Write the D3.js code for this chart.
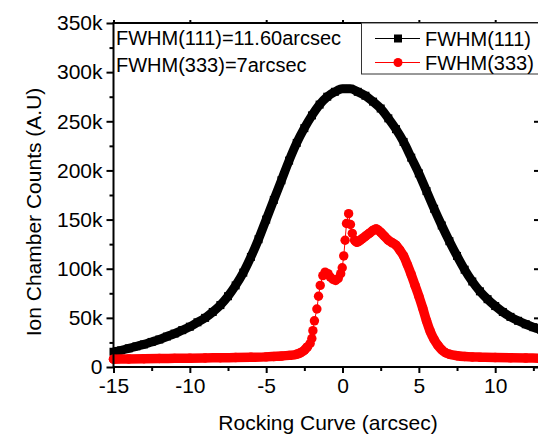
<!DOCTYPE html>
<html>
<head>
<meta charset="utf-8">
<script src="https://cdnjs.cloudflare.com/ajax/libs/d3/7.8.5/d3.min.js"></script>
<style>
  body { margin: 0; background: #fff; }
  text { font-family: "Liberation Sans", Arial, sans-serif; }
</style>
</head>
<body>
<script>

// FWHM(111) series, counts in thousands
var blackX = [-15, -14.5, -14, -13.5, -13, -12.5, -12, -11.5, -11, -10.5, -10, -9.5, -9, -8.5, -8, -7.5, -7, -6.5, -6, -5.5,
  -5, -4.5, -4, -3.5, -3, -2.5, -2, -1.5, -1, -0.5, 0, 0.5, 1, 1.5, 2, 2.5, 3, 3.5, 4, 4.5,
  5, 5.5, 6, 6.5, 7, 7.5, 8, 8.5, 9, 9.5, 10, 10.5, 11, 11.5, 12, 12.5, 13];
var blackY = [15.5, 17, 19, 21, 23, 25.5, 28, 31, 34, 37.5, 41, 45.5, 50, 56, 63, 72, 83, 96, 112, 130,
  150, 170, 190, 210, 228, 243, 256, 267, 275, 280, 283, 283, 280, 276, 270, 263, 253, 242, 229, 213,
  197, 179, 161, 144, 128, 113, 99, 87, 77, 69, 62, 56, 51, 47, 43.5, 40.5, 38];

// FWHM(333) series, counts in thousands
var redX = [-15, -14, -13, -12, -11, -10, -9, -8, -7, -6, -5, -4.5, -4, -3.5, -3, -2.75, -2.5, -2.3, -2.12, -2.01,
  -1.94, -1.84, -1.68, -1.57, -1.46, -1.29, -1.14, -0.95, -0.8, -0.62, -0.45, -0.28, -0.12, -0.02, 0.08, 0.17, 0.26, 0.4, 0.52, 0.64,
  0.8, 0.95, 1.25, 1.5, 1.75, 2, 2.2, 2.5, 2.75, 3, 3.25, 3.5, 3.75, 4, 4.25, 4.5, 4.75, 5, 5.25, 5.5,
  5.75, 6, 6.25, 6.5, 6.75, 7, 7.5, 8, 8.5, 9, 10, 11, 12, 13];
var redY = [8, 8.2, 8.4, 8.6, 8.8, 9, 9.2, 9.4, 9.6, 9.9, 10.3, 10.7, 11.1, 11.8, 13, 14.5, 17, 20.5, 24, 29,
  37, 47, 59, 72, 83, 93, 96.5, 95, 91.5, 89, 88, 90, 95, 101, 113, 129, 146, 156, 145, 136,
  129, 127, 130, 133, 136, 139, 140.5, 137, 133, 129, 126.5, 124, 119, 113, 104, 94, 83, 72, 60, 47,
  36, 28, 22, 17.5, 14.5, 13, 11.5, 10.7, 10.2, 10, 9.6, 9.3, 9.1, 9];

var xTicks = [-15, -10, -5, 0, 5, 10];
var xTickLabels = ["-15", "-10", "-5", "0", "5", "10"];
var xMinor = [-12.5, -7.5, -2.5, 2.5, 7.5, 12.5];
var yTicks = [0, 50, 100, 150, 200, 250, 300, 350];
var yTickLabels = ["0", "50k", "100k", "150k", "200k", "250k", "300k", "350k"];
var yMinor = [25, 75, 125, 175, 225, 275, 325];
var seriesNames = ["FWHM(111)", "FWHM(333)"];
var notes = ["FWHM(111)=11.60arcsec", "FWHM(333)=7arcsec"];

var width = 538, height = 435;
var plotLeft = 113.5, plotRight = 541, plotTop = 23, plotBottom = 367;

var svg = d3.select("body").append("svg")
  .attr("width", width)
  .attr("height", height);

svg.append("rect").attr("width", width).attr("height", height).attr("fill", "#fff");

var x = d3.scaleLinear().domain([-15, 13]).range([plotLeft, plotRight]);
var y = d3.scaleLinear().domain([0, 350]).range([plotBottom, plotTop]);

var black = blackX.map(function (v, i) { return { x: v, y: blackY[i] }; });
var red = redX.map(function (v, i) { return { x: v, y: redY[i] }; });

var plot = svg.append("g");

var line = d3.line()
  .x(function (d) { return x(d.x); })
  .y(function (d) { return y(d.y); })
  .curve(d3.curveMonotoneX);

// black: dense squares look like a solid band
plot.append("path")
  .datum(black)
  .attr("d", line)
  .attr("fill", "none")
  .attr("stroke", "#000")
  .attr("stroke-width", 9)
  .attr("stroke-linejoin", "round");

plot.selectAll("rect.sq")
  .data(black)
  .enter()
  .append("rect")
  .attr("class", "sq")
  .attr("x", function (d) { return x(d.x) - 4; })
  .attr("y", function (d) { return y(d.y) - 4; })
  .attr("width", 8)
  .attr("height", 8)
  .attr("fill", "#000");

// red: solid band where points are dense, separate dots on the steep part
var band = d3.line()
  .defined(function (d) { return d.x <= -2.3 || d.x >= 0.8; })
  .x(function (d) { return x(d.x); })
  .y(function (d) { return y(d.y); })
  .curve(d3.curveMonotoneX);

plot.append("path")
  .datum(red)
  .attr("d", band)
  .attr("fill", "none")
  .attr("stroke", "#ff0000")
  .attr("stroke-width", 9.5)
  .attr("stroke-linejoin", "round")
  .attr("stroke-linecap", "round");

plot.append("path")
  .datum(red)
  .attr("d", d3.line().x(function (d) { return x(d.x); }).y(function (d) { return y(d.y); }))
  .attr("fill", "none")
  .attr("stroke", "#ff0000")
  .attr("stroke-width", 1);

plot.selectAll("circle.dot")
  .data(red)
  .enter()
  .append("circle")
  .attr("class", "dot")
  .attr("cx", function (d) { return x(d.x); })
  .attr("cy", function (d) { return y(d.y); })
  .attr("r", 4.7)
  .attr("fill", "#ff0000");

// axes
var fmtX = function (d) { return xTickLabels[xTicks.indexOf(d)]; };
var fmtY = function (d) { return yTickLabels[yTicks.indexOf(d)]; };

svg.append("g").attr("transform", "translate(0," + plotBottom + ")")
  .call(d3.axisBottom(x).tickValues(xTicks).tickFormat(fmtX).tickSize(6).tickPadding(5));
svg.append("g").attr("transform", "translate(0," + plotBottom + ")")
  .call(d3.axisBottom(x).tickValues(xMinor).tickFormat("").tickSize(4));

svg.append("g").attr("transform", "translate(" + plotLeft + ",0)")
  .call(d3.axisLeft(y).tickValues(yTicks).tickFormat(fmtY).tickSize(7).tickPadding(4));
svg.append("g").attr("transform", "translate(" + plotLeft + ",0)")
  .call(d3.axisLeft(y).tickValues(yMinor).tickFormat("").tickSize(4));

svg.append("g").attr("transform", "translate(0," + plotTop + ")")
  .call(d3.axisTop(x).tickValues(xTicks).tickFormat("").tickSize(3));
svg.append("g").attr("transform", "translate(" + plotRight + ",0)")
  .call(d3.axisRight(y).tickValues(yTicks).tickFormat("").tickSize(-7));
svg.append("g").attr("transform", "translate(" + plotRight + ",0)")
  .call(d3.axisRight(y).tickValues(yMinor).tickFormat("").tickSize(-3));

svg.selectAll(".domain").remove();
svg.selectAll(".tick line").attr("stroke", "#000").attr("stroke-width", 2);
svg.selectAll(".tick text").attr("font-size", 21).attr("fill", "#000")
  .attr("font-family", "Liberation Sans, Arial, sans-serif");

// frame
svg.append("rect")
  .attr("x", plotLeft).attr("y", plotTop)
  .attr("width", plotRight - plotLeft).attr("height", plotBottom - plotTop)
  .attr("fill", "none").attr("stroke", "#000").attr("stroke-width", 2);

// axis titles
svg.append("text")
  .attr("x", 328).attr("y", 430)
  .attr("text-anchor", "middle")
  .attr("font-size", 21)
  .text("Rocking Curve (arcsec)");

svg.append("text")
  .attr("transform", "translate(41,212) rotate(-90)")
  .attr("text-anchor", "middle")
  .attr("font-size", 21)
  .text("Ion Chamber Counts (A.U)");

// annotations
svg.selectAll("text.note")
  .data(notes)
  .enter()
  .append("text")
  .attr("class", "note")
  .attr("x", 116)
  .attr("y", function (d, i) { return 45 + i * 27; })
  .attr("font-size", 20)
  .text(function (d) { return d; });

// legend
var legend = svg.append("g");
legend.append("rect")
  .attr("x", 361.5).attr("y", 23)
  .attr("width", 190).attr("height", 51)
  .attr("fill", "#fff").attr("stroke", "#333").attr("stroke-width", 1);

var colors = ["#000", "#ff0000"];
seriesNames.forEach(function (name, i) {
  var cy = 38.5 + i * 24;
  legend.append("line")
    .attr("x1", 375).attr("x2", 420).attr("y1", cy).attr("y2", cy)
    .attr("stroke", colors[i]).attr("stroke-width", 1);
  if (i === 0) {
    legend.append("rect").attr("x", 394).attr("y", cy - 4).attr("width", 8).attr("height", 8).attr("fill", colors[i]);
  } else {
    legend.append("circle").attr("cx", 398).attr("cy", cy).attr("r", 4.5).attr("fill", colors[i]);
  }
  legend.append("text")
    .attr("x", 425).attr("y", cy + 7)
    .attr("font-size", 20)
    .text(name);
});

</script>
</body>
</html>
